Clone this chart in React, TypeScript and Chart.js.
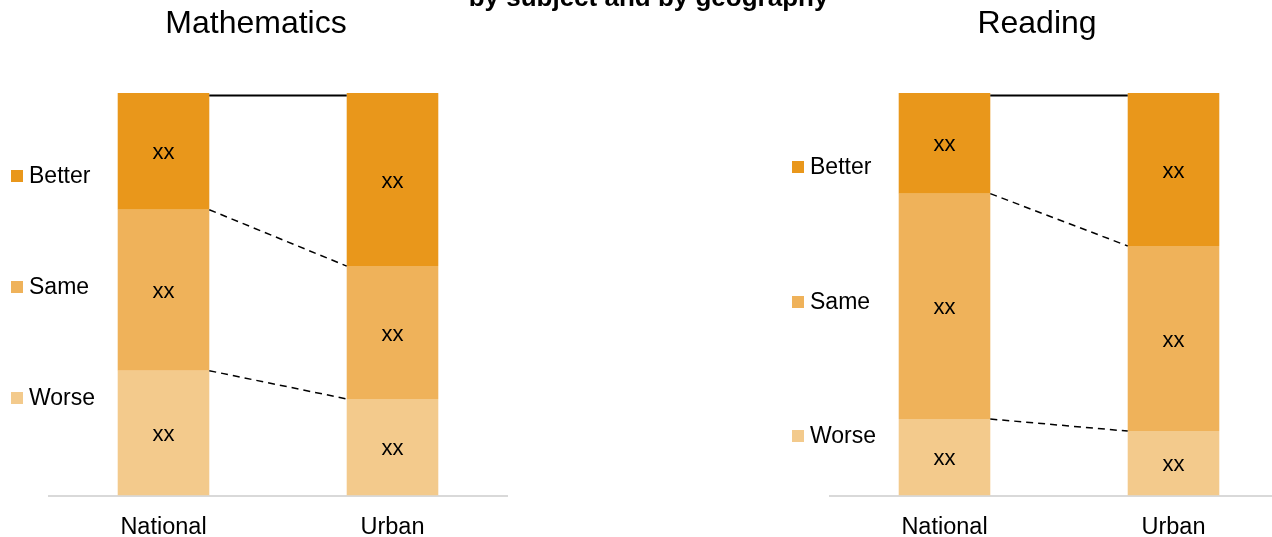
import React, { useEffect, useRef } from "react";
import { Chart, registerables } from "chart.js";

Chart.register(...registerables);

const FONT = "'Liberation Sans', Arial, Helvetica, sans-serif";

// ---- data ----
const mainTitle = "by subject and by geography";
const categories = ["National", "Urban"];
const seriesNames = ["Better", "Same", "Worse"];
const seriesColors = ["#E9971B", "#EFB25A", "#F3CA8C"];

const mathBetter = [29, 43];
const mathSame = [40, 33];
const mathWorse = [31, 24];

const readingBetter = [25, 38];
const readingSame = [56, 46];
const readingWorse = [19, 16];

const segmentLabel = "xx";

// ---- plugins ----
const connectorPlugin = {
  id: "connectors",
  afterDatasetsDraw(chart: any) {
    const ctx = chart.ctx;
    const n = chart.data.datasets.length;
    // datasets ordered bottom -> top: Worse, Same, Better
    const topMeta = chart.getDatasetMeta(n - 1);
    const a = topMeta.data[0];
    const b = topMeta.data[1];
    if (!a || !b) return;
    const x1 = a.x + a.width / 2;
    const x2 = b.x - b.width / 2;
    ctx.save();
    ctx.strokeStyle = "#000";
    ctx.lineWidth = 2;
    ctx.setLineDash([]);
    ctx.beginPath();
    ctx.moveTo(x1, a.y + 2.5);
    ctx.lineTo(x2, b.y + 2.5);
    ctx.stroke();
    ctx.lineWidth = 1.5;
    ctx.setLineDash([7, 5]);
    for (let d = n - 1; d >= 1; d--) {
      const m = chart.getDatasetMeta(d);
      const p = m.data[0];
      const q = m.data[1];
      ctx.beginPath();
      ctx.moveTo(x1, p.base);
      ctx.lineTo(x2, q.base);
      ctx.stroke();
    }
    ctx.restore();
  },
};

const labelPlugin = {
  id: "segLabels",
  afterDatasetsDraw(chart: any) {
    const ctx = chart.ctx;
    ctx.save();
    ctx.font = `22px ${FONT}`;
    ctx.fillStyle = "#000";
    ctx.textAlign = "center";
    ctx.textBaseline = "middle";
    chart.data.datasets.forEach((_ds: any, i: number) => {
      const meta = chart.getDatasetMeta(i);
      meta.data.forEach((el: any) => {
        ctx.fillText(segmentLabel, el.x, (el.y + el.base) / 2 + 2);
      });
    });
    ctx.restore();
  },
};

const sideLegendPlugin = {
  id: "sideLegend",
  afterDraw(chart: any, _args: any, opts: any) {
    const ctx = chart.ctx;
    const ys: number[] = opts.ys || [];
    ctx.save();
    ctx.font = `23px ${FONT}`;
    ctx.textAlign = "left";
    ctx.textBaseline = "middle";
    seriesNames.forEach((name, i) => {
      const y = ys[i];
      ctx.fillStyle = seriesColors[i];
      ctx.fillRect(11, y - 6, 12, 12);
      ctx.fillStyle = "#000";
      ctx.fillText(name, 29, y + 1);
    });
    // panel title, centred on the canvas
    ctx.font = `32px ${FONT}`;
    ctx.textAlign = "center";
    ctx.textBaseline = "alphabetic";
    ctx.fillText(opts.title || "", chart.width / 2, 33);
    ctx.restore();
  },
};

function StackChart(props: {
  title: string;
  better: number[];
  same: number[];
  worse: number[];
  legendYs: number[];
  left: number;
}) {
  const ref = useRef<HTMLCanvasElement>(null);
  useEffect(() => {
    if (!ref.current) return;
    const chart = new Chart(ref.current, {
      type: "bar",
      data: {
        labels: categories,
        datasets: [
          { label: seriesNames[2], data: props.worse, backgroundColor: seriesColors[2] },
          { label: seriesNames[1], data: props.same, backgroundColor: seriesColors[1] },
          { label: seriesNames[0], data: props.better, backgroundColor: seriesColors[0] },
        ],
      },
      options: {
        responsive: false,
        animation: false,
        devicePixelRatio: 1,
        layout: { padding: { left: 49, right: 5, top: 93, bottom: 0 } },
        datasets: { bar: { categoryPercentage: 1, barPercentage: 0.4, borderWidth: 0 } },
        scales: {
          x: {
            stacked: true,
            grid: { display: false, drawTicks: false },
            border: { display: true, color: "#D9D9D9", width: 2 },
            ticks: {
              color: "#000",
              padding: 20,
              font: { family: FONT, size: 23.5, lineHeight: 1 },
            },
          },
          y: {
            stacked: true,
            display: false,
            min: 0,
            max: 100,
          },
        },
        plugins: {
          legend: { display: false },
          tooltip: { enabled: false },
          title: { display: false },
          sideLegend: { ys: props.legendYs, title: props.title },
        } as any,
      },
      plugins: [connectorPlugin, labelPlugin, sideLegendPlugin],
    });
    return () => chart.destroy();
  }, []);
  return (
    <canvas
      ref={ref}
      width={512}
      height={559}
      style={{ position: "absolute", left: props.left, top: 0, width: 512, height: 559 }}
    />
  );
}

export default function App() {
  return (
    <div
      style={{
        position: "fixed",
        left: 0,
        top: 0,
        width: 1272,
        height: 537,
        overflow: "hidden",
        background: "#fff",
      }}
    >
      <StackChart
        title="Mathematics"
        better={mathBetter}
        same={mathSame}
        worse={mathWorse}
        legendYs={[176, 287, 398]}
        left={0}
      />
      <StackChart
        title="Reading"
        better={readingBetter}
        same={readingSame}
        worse={readingWorse}
        legendYs={[167, 302, 436]}
        left={781}
      />
      <div
        style={{
          position: "absolute",
          left: 0,
          top: -16,
          width: 1297,
          textAlign: "center",
          font: `bold 26px/26px ${FONT}`,
          color: "#000",
          whiteSpace: "nowrap",
        }}
      >
        {mainTitle}
      </div>
    </div>
  );
}
